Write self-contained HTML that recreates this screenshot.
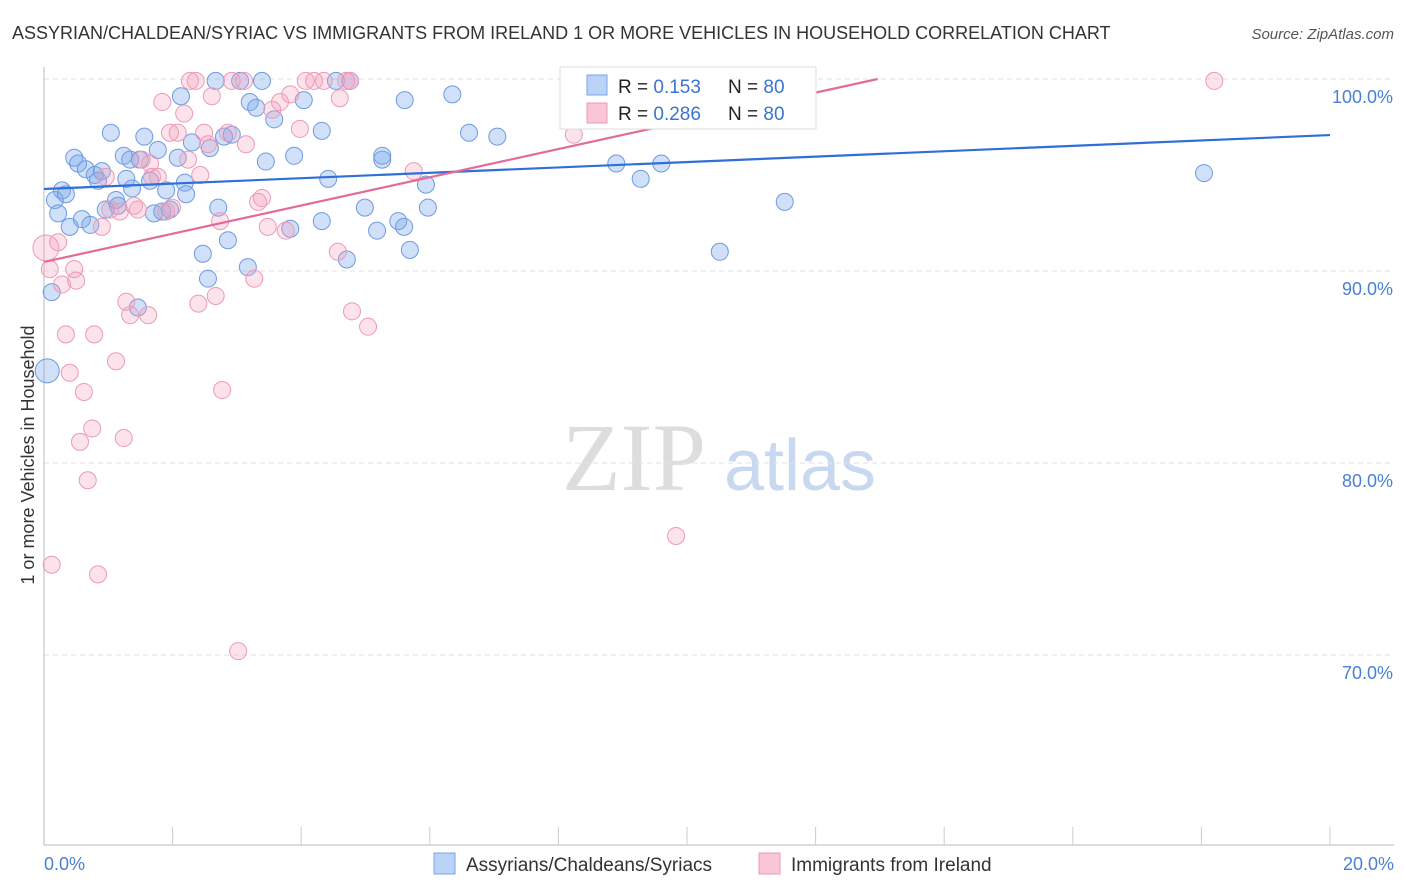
<!DOCTYPE html>
<html><head><meta charset="utf-8"><style>
body{margin:0;background:#fff;font-family:"Liberation Sans",sans-serif;}
#c{position:relative;width:1406px;height:892px;overflow:hidden;}
</style></head><body>
<div id="c">
<svg id="s" width="1406" height="892" xmlns="http://www.w3.org/2000/svg">
<text x="12" y="39" font-size="18" fill="#333">ASSYRIAN/CHALDEAN/SYRIAC VS IMMIGRANTS FROM IRELAND 1 OR MORE VEHICLES IN HOUSEHOLD CORRELATION CHART</text>
<text x="1394" y="39" font-size="15" fill="#555" font-style="italic" text-anchor="end">Source: ZipAtlas.com</text>
<text x="634" y="490" font-size="96" fill="#ddd" font-family="Liberation Serif" text-anchor="middle">ZIP</text>
<text x="800" y="490" font-size="72" fill="#c8d8f0" text-anchor="middle">atlas</text>
<g id="grid"></g><g id="pts"></g><g id="lines"></g>
<text transform="translate(34,455) rotate(-90)" font-size="18" fill="#333" text-anchor="middle">1 or more Vehicles in Household</text>
<text x="44" y="870" font-size="18" fill="#4a7fd6">0.0%</text>
<text x="1394" y="870" font-size="18" fill="#4a7fd6" text-anchor="end">20.0%</text>
<g>
<rect x="560" y="67" width="256" height="62" fill="#fff" stroke="#ddd"/>
<rect x="587" y="75" width="20" height="20" fill="#b9d2f5" stroke="#7aa4e6"/>
<rect x="587" y="103" width="20" height="20" fill="#f9c6d5" stroke="#ec9ab5"/>
<text x="618" y="93" font-size="19" fill="#222">R = <tspan fill="#3b74d1">0.153</tspan><tspan x="728">N = </tspan><tspan fill="#3b74d1">80</tspan></text>
<text x="618" y="120" font-size="19" fill="#222">R = <tspan fill="#3b74d1">0.286</tspan><tspan x="728">N = </tspan><tspan fill="#3b74d1">80</tspan></text>
</g>
<g>
<rect x="434" y="853" width="21" height="21" fill="#b9d2f5" stroke="#7aa4e6"/>
<text x="466" y="871" font-size="19" fill="#333">Assyrians/Chaldeans/Syriacs</text>
<rect x="759" y="853" width="21" height="21" fill="#f9c6d5" stroke="#ec9ab5"/>
<text x="791" y="871" font-size="19" fill="#333">Immigrants from Ireland</text>
</g>
</svg></div>
<script>
const yTicks=[70,80,90,100];
const blueX=[0.05,0.12,0.17,0.22,0.28,0.34,0.40,0.47,0.53,0.59,0.65,0.72,0.79,0.84,0.90,0.96,1.04,1.12,1.15,1.24,1.28,1.34,1.37,1.46,1.49,1.56,1.65,1.71,1.77,1.84,1.90,1.96,2.08,2.13,2.19,2.21,2.30,2.47,2.55,2.58,2.67,2.71,2.80,2.86,2.92,3.05,3.17,3.20,3.30,3.39,3.45,3.58,3.83,3.89,4.04,4.32,4.32,4.42,4.54,4.71,4.76,4.99,5.18,5.26,5.26,5.51,5.60,5.61,5.69,5.94,5.97,6.35,6.61,7.05,8.90,9.28,9.60,10.51,11.52,18.04];
const blueY=[84.8,88.9,93.7,93.0,94.2,94.0,92.3,95.9,95.6,92.7,95.3,92.4,95.0,94.7,95.2,93.2,97.2,93.7,93.4,96.0,94.8,95.8,94.3,88.1,95.8,97.0,94.7,93.0,96.3,93.1,94.2,93.2,95.9,99.1,94.6,94.0,96.7,90.9,89.6,96.4,99.9,93.3,97.0,91.6,97.1,99.9,90.2,98.8,98.5,99.9,95.7,97.9,92.2,96.0,98.9,92.6,97.3,94.8,99.9,90.6,99.9,93.3,92.1,95.8,96.0,92.6,92.3,98.9,91.1,94.5,93.3,99.2,97.2,97.0,95.6,94.8,95.6,91.0,93.6,95.1];
const pinkX=[0.03,0.09,0.22,0.28,0.34,0.40,0.47,0.50,0.56,0.62,0.68,0.75,0.78,0.84,0.90,0.96,1.03,1.12,1.18,1.24,1.28,1.34,1.40,1.46,1.52,1.62,1.65,1.68,1.77,1.84,1.90,1.96,1.99,2.08,2.18,2.24,2.27,2.36,2.40,2.43,2.49,2.55,2.61,2.67,2.74,2.77,2.86,2.92,3.02,3.11,3.14,3.27,3.33,3.39,3.48,3.55,3.67,3.76,3.83,3.98,4.07,4.20,4.35,4.57,4.60,4.70,4.76,4.79,5.04,5.75,8.24,9.83,18.20,0.12];
const pinkY=[91.2,90.1,91.5,89.3,86.7,84.7,90.1,89.5,81.1,83.7,79.1,81.8,86.7,74.2,92.3,94.9,93.2,85.3,93.1,81.3,88.4,87.7,93.4,93.2,95.8,87.7,95.6,94.9,94.9,98.8,93.1,97.2,93.3,97.2,98.2,95.8,99.9,99.9,88.3,95.0,97.2,96.6,99.1,88.7,92.6,83.8,97.2,99.9,70.2,99.9,96.6,89.6,93.6,93.8,92.3,98.4,98.8,92.1,99.2,97.4,99.9,99.9,99.9,91.0,99.0,99.9,99.9,87.9,87.1,95.2,97.1,76.2,99.9,74.7];
const blueTrend=[94.27,0.1405];
const pinkTrend=[90.47,0.735];
const X=v=>44+v*64.3, Y=v=>79+(100-v)*19.2;
const NS="http://www.w3.org/2000/svg";
function mk(t,a,p){const e=document.createElementNS(NS,t);for(const k in a)e.setAttribute(k,a[k]);p.appendChild(e);return e;}
const g=document.getElementById('grid');
yTicks.forEach(t=>{
 const l=mk('line',{x1:44,x2:1394,y1:Y(t),y2:Y(t),stroke:'#e2e2e2','stroke-dasharray':'5,4'},g);
 
 
 const tx=mk('text',{x:1393,y:Y(t)+24,'font-size':18,fill:'#4a7fd6','text-anchor':'end'},g);
 tx.textContent=t.toFixed(1)+'%';
 
 
});
const ax=mk('line',{x1:44,x2:1394,y1:845,y2:845,stroke:'#bbb'},g);


const ay=mk('line',{x1:44,x2:44,y1:67,y2:845,stroke:'#bbb'},g);


for(let i=1;i<=10;i++){const t=mk('line',{x1:X(i*2)-i*0.3+ (i===10?0:0),x2:X(i*2),y1:827,y2:845,stroke:'#ccc'},g);t.setAttribute('x1',44+i*128.6);t.setAttribute('x2',44+i*128.6);
 
 }
const P=document.getElementById('pts');
function pts(xs,ys,fill,stroke,name){xs.forEach((x,i)=>{
 const r=(i===0)?(name==='blue'?12:13):8.5;
 const c=mk('circle',{cx:X(x),cy:Y(ys[i]),r:r,fill:fill,stroke:stroke,'stroke-width':1},P);
 
 
});}
pts(blueX,blueY,'rgba(120,165,235,0.35)','#6e9be0','blue');
pts(pinkX,pinkY,'rgba(245,160,190,0.3)','#ec9ab5','pink');
const L=document.getElementById('lines');
const bl=mk('line',{x1:X(0),y1:Y(blueTrend[0]),x2:X(20),y2:Y(blueTrend[0]+20*blueTrend[1]),stroke:'#2f6fd6','stroke-width':2.2},L);


const xe=(100-pinkTrend[0])/pinkTrend[1];
const pl=mk('line',{x1:X(0),y1:Y(pinkTrend[0]),x2:X(xe),y2:Y(100),stroke:'#e46a98','stroke-width':2.2},L);


</script>
</body></html>
